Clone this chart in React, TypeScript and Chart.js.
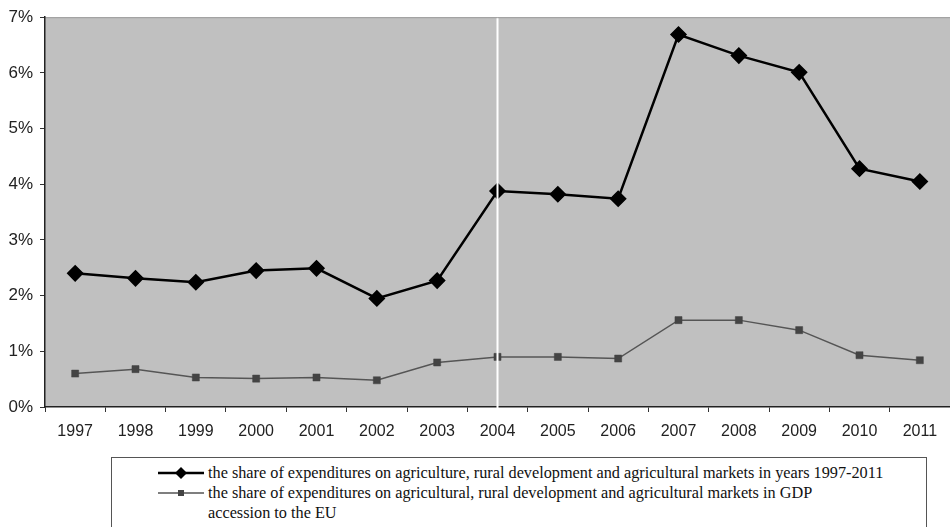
import React, { useEffect, useRef } from "react";
import { Chart, registerables } from "chart.js";

Chart.register(...registerables);

const years = ["1997", "1998", "1999", "2000", "2001", "2002", "2003", "2004", "2005", "2006", "2007", "2008", "2009", "2010", "2011"];
const shareYears = [2.4, 2.31, 2.24, 2.45, 2.49, 1.95, 2.27, 3.88, 3.82, 3.74, 6.69, 6.31, 6.01, 4.28, 4.05];
const shareGdp = [0.6, 0.68, 0.53, 0.51, 0.53, 0.48, 0.8, 0.9, 0.9, 0.87, 1.56, 1.56, 1.38, 0.93, 0.84];
const label1 = "the share of expenditures on agriculture, rural development and agricultural markets in years 1997-2011";
const label2a = "the share of expenditures on agricultural, rural development and agricultural markets in GDP";
const label2b = "accession to the EU";
const accessionYear = "2004";

const bgPlugin = {
  id: "bgPlugin",
  beforeDraw(chart: any) {
    const { ctx, chartArea } = chart;
    ctx.save();
    ctx.fillStyle = "#c0c0c0";
    ctx.fillRect(chartArea.left, chartArea.top, chartArea.right - chartArea.left, chartArea.bottom - chartArea.top);
    ctx.strokeStyle = "#9a9a9a";
    ctx.lineWidth = 1;
    ctx.beginPath();
    ctx.moveTo(chartArea.left, chartArea.top + 0.5);
    ctx.lineTo(chartArea.right, chartArea.top + 0.5);
    ctx.stroke();
    ctx.restore();
  },
  afterDraw(chart: any) {
    const { ctx, chartArea, scales } = chart;
    const idx = years.indexOf(accessionYear);
    const x = scales.x.getPixelForValue(idx);
    ctx.save();
    ctx.strokeStyle = "#ffffff";
    ctx.lineWidth = 2;
    ctx.beginPath();
    ctx.moveTo(x, chartArea.top + 1);
    ctx.lineTo(x, chartArea.bottom + 2);
    ctx.stroke();
    ctx.restore();
  },
};

function LegendLine({ type }: { type: "diamond" | "square" }) {
  return (
    <svg width="46" height="12" style={{ flex: "0 0 auto", marginRight: 4 }}>
      {type === "diamond" ? (
        <>
          <line x1="0" y1="6" x2="46" y2="6" stroke="#000" strokeWidth="2.5" />
          <polygon points="23,0 29,6 23,12 17,6" fill="#000" />
        </>
      ) : (
        <>
          <line x1="0" y1="6" x2="46" y2="6" stroke="#555" strokeWidth="1.5" />
          <rect x="20" y="3" width="6" height="6" fill="#444" />
        </>
      )}
    </svg>
  );
}

export default function App() {
  const canvasRef = useRef<HTMLCanvasElement>(null);

  useEffect(() => {
    if (!canvasRef.current) return;
    const chart = new Chart(canvasRef.current, {
      type: "line",
      data: {
        labels: years,
        datasets: [
          {
            label: label1,
            data: shareYears,
            borderColor: "#000",
            backgroundColor: "#000",
            borderWidth: 2.5,
            pointStyle: "rectRot",
            pointRadius: 7.5,
            pointBorderWidth: 1.5,
            pointBackgroundColor: "#000",
            pointBorderColor: "#000",
            tension: 0,
          },
          {
            label: label2a + " " + label2b,
            data: shareGdp,
            borderColor: "#555",
            backgroundColor: "#444",
            borderWidth: 1.5,
            pointStyle: "rect",
            pointRadius: 5,
            pointBorderWidth: 0.5,
            pointBackgroundColor: "#444",
            pointBorderColor: "#444",
            tension: 0,
          },
        ],
      },
      options: {
        responsive: false,
        animation: false,
        devicePixelRatio: 1,
        layout: { padding: { top: 12, right: 2, left: 0, bottom: 0 } },
        plugins: {
          legend: { display: false },
          tooltip: { enabled: false },
        },
        scales: {
          x: {
            offset: true,
            grid: {
              offset: true,
              drawOnChartArea: false,
              tickLength: 5,
              color: "#333",
              lineWidth: 1,
            },
            border: { color: "#222", width: 1.5 },
            ticks: {
              color: "#222",
              padding: 10,
              maxRotation: 0,
              autoSkip: false,
              font: { family: "Liberation Sans, Arial, sans-serif", size: 16 },
            },
            afterFit(scale: any) {
              scale.height = 38;
            },
          },
          y: {
            min: 0,
            max: 7,
            ticks: {
              stepSize: 1,
              color: "#222",
              padding: 7,
              font: { family: "Liberation Sans, Arial, sans-serif", size: 17 },
              callback: (v: any) => v + "%",
            },
            grid: {
              drawOnChartArea: false,
              tickLength: 5,
              color: "#333",
            },
            border: { color: "#222", width: 1.5 },
            afterFit(scale: any) {
              scale.width = 45;
            },
          },
        },
      },
      plugins: [bgPlugin],
    });
    return () => chart.destroy();
  }, []);

  return (
    <div style={{ position: "absolute", left: 0, top: 0, width: 950, height: 527, background: "#fff", overflow: "hidden" }}>
      <canvas ref={canvasRef} width={959} height={445} style={{ position: "absolute", left: 0, top: 0, width: 959, height: 445 }} />
      <div
        style={{
          position: "absolute",
          left: 111,
          top: 457,
          width: 816,
          height: 72,
          border: "1px solid #555",
          boxSizing: "border-box",
          fontFamily: "Liberation Serif, 'Times New Roman', serif",
          fontSize: 16.25,
          color: "#111",
          lineHeight: "20px",
          paddingTop: 5,
          paddingLeft: 46,
        }}
      >
        <div style={{ display: "flex", alignItems: "center" }}>
          <LegendLine type="diamond" />
          <span>{label1}</span>
        </div>
        <div style={{ display: "flex", alignItems: "center" }}>
          <LegendLine type="square" />
          <span>{label2a}</span>
        </div>
        <div style={{ paddingLeft: 50 }}>{label2b}</div>
      </div>
    </div>
  );
}
